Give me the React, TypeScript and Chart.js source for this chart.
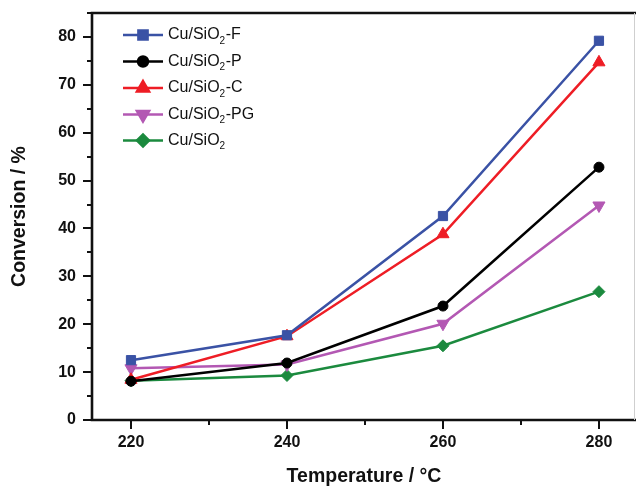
import React, { useEffect, useRef } from "react";
import { Chart, registerables } from "chart.js";
import { drawPoint } from "chart.js/helpers";

Chart.register(...registerables);

const temperatures = [220, 240, 260, 280];
const seriesF = [12.5, 17.7, 42.6, 79.2];
const seriesP = [8.1, 11.9, 23.8, 52.8];
const seriesC = [8.4, 17.5, 38.8, 74.7];
const seriesPG = [10.8, 11.6, 20.1, 44.8];
const seriesBase = [8.2, 9.3, 15.5, 26.8];

const xMajorTicks = [220, 240, 260, 280];
const xMinorTicks = [230, 250, 270];
const yMajorTicks = [0, 10, 20, 30, 40, 50, 60, 70, 80];
const yMinorTicks = [5, 15, 25, 35, 45, 55, 65, 75, 85];

const seriesNames = ["F", "P", "C", "PG", ""];

const FONT = "'Liberation Sans', Arial, Helvetica, sans-serif";

const styles = [
  { color: "#3a52a5", pointStyle: "rect", radius: 6.5, rotation: 0 },
  { color: "#000000", pointStyle: "circle", radius: 5, rotation: 0 },
  { color: "#ee1d25", pointStyle: "triangle", radius: 7, rotation: 0 },
  { color: "#b358b3", pointStyle: "triangle", radius: 7, rotation: 180 },
  { color: "#1b8a3e", pointStyle: "rectRot", radius: 6, rotation: 0 },
];

const allSeries = [seriesF, seriesP, seriesC, seriesPG, seriesBase];

const framePlugin = {
  id: "frameTicks",
  afterDraw(chart: any) {
    const ctx = chart.ctx;
    const { left, top, bottom, right } = chart.chartArea;
    const xs = chart.scales.x;
    const ys = chart.scales.y;
    ctx.save();
    ctx.strokeStyle = "#111";
    ctx.lineCap = "butt";
    ctx.lineWidth = 2;
    ctx.beginPath();
    yMajorTicks.forEach((v) => {
      const y = Math.round(ys.getPixelForValue(v));
      ctx.moveTo(left, y);
      ctx.lineTo(left - 9, y);
    });
    yMinorTicks.forEach((v) => {
      const y = Math.round(ys.getPixelForValue(v));
      ctx.moveTo(left, y);
      ctx.lineTo(left - 5, y);
    });
    xMajorTicks.forEach((v) => {
      const x = Math.round(xs.getPixelForValue(v));
      ctx.moveTo(x, bottom);
      ctx.lineTo(x, bottom + 9);
    });
    xMinorTicks.forEach((v) => {
      const x = Math.round(xs.getPixelForValue(v));
      ctx.moveTo(x, bottom);
      ctx.lineTo(x, bottom + 5);
    });
    ctx.stroke();
    ctx.lineWidth = 2.6;
    ctx.beginPath();
    ctx.moveTo(right, top);
    ctx.lineTo(left, top);
    ctx.lineTo(left, bottom);
    ctx.lineTo(right, bottom);
    ctx.stroke();
    ctx.strokeStyle = "#cfcfcf";
    ctx.lineWidth = 1;
    ctx.beginPath();
    ctx.moveTo(right - 1.5, top);
    ctx.lineTo(right - 1.5, bottom);
    ctx.stroke();
    ctx.restore();
  },
};

const legendPlugin = {
  id: "customLegend",
  afterDatasetsDraw(chart: any) {
    const ctx = chart.ctx;
    const rowsY = [35, 61.5, 88, 114.5, 140.5];
    ctx.save();
    styles.forEach((s, i) => {
      const y = rowsY[i];
      ctx.strokeStyle = s.color;
      ctx.lineWidth = 2.5;
      ctx.beginPath();
      ctx.moveTo(123, y);
      ctx.lineTo(163, y);
      ctx.stroke();
      ctx.fillStyle = s.color;
      drawPoint(
        ctx,
        { pointStyle: s.pointStyle, radius: s.radius, rotation: s.rotation, borderWidth: 1 } as any,
        143,
        y
      );
      ctx.fillStyle = "#111";
      ctx.textBaseline = "middle";
      ctx.textAlign = "left";
      ctx.font = `16px ${FONT}`;
      let x = 168;
      const main = "Cu/SiO";
      ctx.fillText(main, x, y);
      x += ctx.measureText(main).width;
      ctx.font = `10px ${FONT}`;
      ctx.fillText("2", x, y + 6);
      x += ctx.measureText("2").width + 0.5;
      if (seriesNames[i]) {
        ctx.font = `16px ${FONT}`;
        ctx.fillText("-" + seriesNames[i], x, y);
      }
    });
    ctx.restore();
  },
};

export default function App() {
  const ref = useRef<HTMLCanvasElement | null>(null);
  useEffect(() => {
    document.body.style.margin = "0";
    document.body.style.overflow = "hidden";
    const canvas = ref.current;
    if (!canvas) return;
    const zeroPad = (scale: any) => {
      scale.paddingTop = 0;
      scale.paddingBottom = 0;
      scale.paddingLeft = 0;
      scale.paddingRight = 0;
    };
    const chart = new Chart(canvas, {
      type: "line",
      data: {
        datasets: allSeries.map((vals, i) => ({
          label: "Cu/SiO2" + (seriesNames[i] ? "-" + seriesNames[i] : ""),
          data: vals.map((v, j) => ({ x: temperatures[j], y: v })),
          borderColor: styles[i].color,
          backgroundColor: styles[i].color,
          pointBackgroundColor: styles[i].color,
          pointBorderColor: styles[i].color,
          borderWidth: 2.5,
          pointStyle: styles[i].pointStyle as any,
          pointRadius: styles[i].radius,
          pointRotation: styles[i].rotation,
          pointBorderWidth: 1,
          tension: 0,
          clip: false as any,
        })),
      },
      options: {
        animation: false,
        responsive: false,
        maintainAspectRatio: false,
        devicePixelRatio: 1,
        layout: { autoPadding: false, padding: { top: 13, left: 0, right: 0, bottom: 0 } },
        plugins: {
          legend: { display: false },
          tooltip: { enabled: false },
        },
        scales: {
          x: {
            type: "linear",
            min: 215,
            max: 284.75,
            grid: { display: false, drawTicks: false },
            border: { display: false },
            afterBuildTicks: (scale: any) => {
              scale.ticks = xMajorTicks.map((v) => ({ value: v }));
            },
            afterFit: (scale: any) => {
              scale.height = 66;
              zeroPad(scale);
            },
            ticks: {
              padding: 13,
              color: "#111",
              font: { family: FONT, size: 16, weight: "bold" },
              maxRotation: 0,
            },
            title: {
              display: true,
              text: "Temperature / °C",
              color: "#111",
              font: { family: FONT, size: 19.5, weight: "bold", lineHeight: 1 },
              padding: { top: 0, bottom: 0 },
            },
          },
          y: {
            type: "linear",
            min: 0,
            max: 85,
            grid: { display: false, drawTicks: false },
            border: { display: false },
            afterBuildTicks: (scale: any) => {
              scale.ticks = yMajorTicks.map((v) => ({ value: v }));
            },
            afterFit: (scale: any) => {
              scale.width = 92;
              zeroPad(scale);
            },
            ticks: {
              padding: 16,
              color: "#111",
              font: { family: FONT, size: 16, weight: "bold" },
            },
            title: {
              display: true,
              text: "Conversion / %",
              color: "#111",
              font: { family: FONT, size: 19.5, weight: "bold", lineHeight: 1 },
              padding: { top: 10, bottom: 0 },
            },
          },
        },
      },
      plugins: [framePlugin, legendPlugin],
    } as any);
    return () => chart.destroy();
  }, []);
  return (
    <div style={{ width: 636, height: 486 }}>
      <canvas ref={ref} width={636} height={486} style={{ display: "block" }} />
    </div>
  );
}
